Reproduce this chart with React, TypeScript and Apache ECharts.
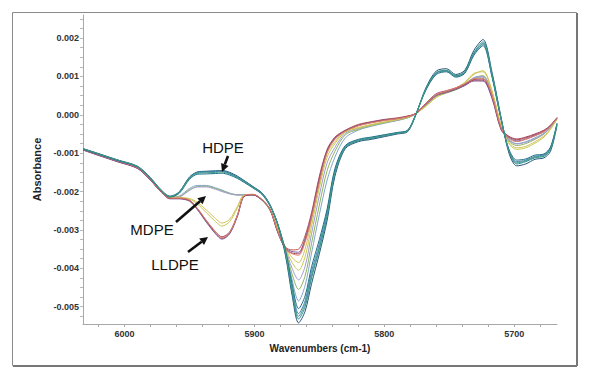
import React, { useEffect, useRef } from "react";
import * as echarts from "echarts";

// Wavenumber sample positions (cm-1)
const wavenumbers = [6032, 6020, 6005, 5990, 5980, 5972, 5965, 5958, 5950, 5944, 5937, 5930, 5925, 5919, 5913, 5908, 5901, 5894, 5888, 5882, 5876, 5871, 5866, 5861, 5856, 5850, 5844, 5838, 5830, 5820, 5810, 5800, 5790, 5782, 5776, 5768, 5760, 5752, 5745, 5738, 5731, 5724, 5717, 5710, 5704, 5698, 5691, 5684, 5677, 5672, 5667];

// HDPE spectra
const hdpe1 = [-0.00088,-0.00101,-0.00118,-0.00134,-0.00164,-0.00195,-0.00212, -0.00201,-0.00162,-0.00149,-0.00147,-0.00146,-0.00145,-0.0015,-0.0016,-0.00171, -0.00187,-0.00204,-0.00234,-0.00286,-0.00368,-0.0047,-0.00542,-0.00512,-0.0044,-0.00362,-0.00275,-0.0016,-0.00088, -0.0007,-0.00064,-0.00057,-0.0005,-0.00044,-0.00003, 0.0007,0.00114,0.0012,0.00105,0.00116,0.00168,0.00196,0.0011,-0.00008,-0.001,-0.00133,-0.00128,-0.00116,-0.00112,-0.00095,-0.00028];
const hdpe2 = [-0.00089,-0.00102,-0.00119,-0.00135,-0.00166,-0.00196,-0.00213, -0.00202,-0.00163,-0.0015,-0.00148,-0.00147,-0.00146,-0.00152,-0.00162,-0.00172, -0.00188,-0.00205,-0.00235,-0.00285,-0.00362,-0.00462,-0.00532,-0.005,-0.00425,-0.0035,-0.00265,-0.00152,-0.00085, -0.00068,-0.00062,-0.00055,-0.00048,-0.00042,-0.00002, 0.00068,0.0011,0.00116,0.00102,0.00112,0.00162,0.0019,0.00105,-0.0001,-0.00095,-0.00128,-0.00122,-0.00112,-0.00108,-0.0009,-0.00025];
const hdpe3 = [-0.0009,-0.00103,-0.0012,-0.00136,-0.00167,-0.00197,-0.00214, -0.00203,-0.00164,-0.00151,-0.00149,-0.00148,-0.00147,-0.00153,-0.00163,-0.00173, -0.00189,-0.00206,-0.00236,-0.00284,-0.00358,-0.0045,-0.00518,-0.00485,-0.00408,-0.00336,-0.00252,-0.00145,-0.00082, -0.00066,-0.0006,-0.00053,-0.00047,-0.00041,-0.00001, 0.00066,0.00108,0.00114,0.001,0.0011,0.00158,0.00184,0.001,-0.00012,-0.00092,-0.00122,-0.00118,-0.00108,-0.00104,-0.00086,-0.00023];
const hdpe4 = [-0.00089,-0.00103,-0.00119,-0.00136,-0.00166,-0.00197,-0.00214, -0.00205,-0.00168,-0.00155,-0.00154,-0.00153,-0.00152,-0.00157,-0.00166,-0.00176, -0.00191,-0.00208,-0.00238,-0.00286,-0.00355,-0.0044,-0.00505,-0.00472,-0.00396,-0.00325,-0.00245,-0.0014,-0.0008, -0.00064,-0.00058,-0.00052,-0.00046,-0.0004,-0.00001, 0.00064,0.00105,0.00112,0.00098,0.00108,0.00155,0.0018,0.00098,-0.00014,-0.0009,-0.00118,-0.00115,-0.00105,-0.00102,-0.00084,-0.00022];
const hdpe5 = [-0.00088,-0.00102,-0.00118,-0.00135,-0.00165,-0.00196,-0.00213, -0.00203,-0.00166,-0.00153,-0.00151,-0.0015,-0.00149,-0.00155,-0.00164,-0.00174, -0.0019,-0.00206,-0.00236,-0.00285,-0.0036,-0.00455,-0.00525,-0.00492,-0.00418,-0.00345,-0.0026,-0.0015,-0.00084, -0.00067,-0.00061,-0.00054,-0.00048,-0.00042,-0.00002, 0.00067,0.00109,0.00115,0.00101,0.00111,0.0016,0.00186,0.00102,-0.00011,-0.00094,-0.00125,-0.0012,-0.0011,-0.00106,-0.00088,-0.00024];

// MDPE / intermediate spectra
const mdpe1 = [-0.0009,-0.00103,-0.0012,-0.00137,-0.00168,-0.00198,-0.00215, -0.00212,-0.00192,-0.00184,-0.00184,-0.0019,-0.00196,-0.00204,-0.00208,-0.00208, -0.00208,-0.00222,-0.00248,-0.00296,-0.00355,-0.0043,-0.00485,-0.00445,-0.0036,-0.0026,-0.0017,-0.0011,-0.0006, -0.0004,-0.0003,-0.00022,-0.00015,-0.00008,0.00002, 0.00025,0.00048,0.00058,0.00066,0.00078,0.00095,0.00098,0.0005,-0.00035,-0.00065,-0.00075,-0.0007,-0.0006,-0.00048,-0.00032,-0.0001];
const mdpe2 = [-0.00089,-0.00102,-0.00119,-0.00136,-0.00167,-0.00197,-0.00214, -0.00213,-0.00195,-0.00187,-0.00186,-0.00192,-0.00198,-0.00205,-0.00209,-0.00209, -0.00209,-0.00223,-0.00249,-0.00297,-0.00352,-0.00415,-0.00455,-0.0042,-0.00335,-0.00235,-0.00145,-0.00095,-0.00052, -0.00038,-0.00028,-0.00021,-0.00014,-0.00008,0.00002, 0.00024,0.00047,0.00057,0.00065,0.00077,0.00096,0.00102,0.00055,-0.00032,-0.00068,-0.0008,-0.00075,-0.00064,-0.0005,-0.00033,-0.0001];
const mdpe3 = [-0.0009,-0.00103,-0.0012,-0.00136,-0.00167,-0.00198,-0.00215, -0.00214,-0.00197,-0.00188,-0.00188,-0.00194,-0.002,-0.00206,-0.00209,-0.00209, -0.00208,-0.00221,-0.00247,-0.00296,-0.0035,-0.004,-0.0043,-0.00395,-0.0031,-0.0021,-0.00125,-0.00085,-0.00048, -0.00036,-0.00027,-0.0002,-0.00014,-0.00007,0.00002, 0.00026,0.0005,0.0006,0.00068,0.0008,0.00097,0.001,0.00052,-0.00034,-0.00066,-0.00076,-0.00072,-0.00062,-0.00049,-0.00032,-0.0001];
const mdpe4 = [-0.0009,-0.00103,-0.0012,-0.00137,-0.00168,-0.00198,-0.00215, -0.00216,-0.0022,-0.00232,-0.00255,-0.00278,-0.0029,-0.00278,-0.00242,-0.0021, -0.00209,-0.00222,-0.00248,-0.00295,-0.00348,-0.00385,-0.00405,-0.0037,-0.0029,-0.0019,-0.0011,-0.00075,-0.00045, -0.00035,-0.00027,-0.0002,-0.00013,-0.00007,0.00002, 0.00022,0.00045,0.00058,0.00068,0.00082,0.00105,0.00115,0.00062,-0.0003,-0.00075,-0.0009,-0.00086,-0.00074,-0.00058,-0.00038,-0.00012];
const mdpe5 = [-0.00089,-0.00102,-0.00119,-0.00136,-0.00167,-0.00197,-0.00214, -0.00215,-0.00218,-0.00228,-0.00248,-0.0027,-0.00282,-0.00272,-0.00238,-0.00209, -0.00208,-0.00221,-0.00247,-0.00295,-0.00345,-0.00372,-0.00385,-0.0035,-0.00275,-0.0018,-0.001,-0.0007,-0.00042, -0.00033,-0.00025,-0.00018,-0.00012,-0.00006,0.00002, 0.00023,0.00046,0.0006,0.0007,0.00085,0.00108,0.00112,0.0006,-0.00028,-0.00072,-0.00086,-0.00082,-0.0007,-0.00055,-0.00036,-0.00011];

// LLDPE spectra
const lldpe1 = [-0.00091,-0.00105,-0.00122,-0.00139,-0.0017,-0.002,-0.00218, -0.00218,-0.00224,-0.00245,-0.00278,-0.00308,-0.00322,-0.00308,-0.00262,-0.00212, -0.00208,-0.00222,-0.00246,-0.00305,-0.00345,-0.00352,-0.0035,-0.00315,-0.00255,-0.0016,-0.0009,-0.00058,-0.0004, -0.00025,-0.00018,-0.00012,-0.00008,-0.00003,0.00003, 0.00028,0.00052,0.0006,0.00068,0.00078,0.0009,0.0009,0.00045,-0.00038,-0.00058,-0.00065,-0.0006,-0.00052,-0.00042,-0.00028,-0.00008];
const lldpe2 = [-0.00092,-0.00106,-0.00123,-0.0014,-0.00171,-0.00201,-0.00219, -0.00219,-0.00225,-0.00247,-0.0028,-0.0031,-0.00324,-0.0031,-0.00264,-0.00213, -0.00209,-0.00223,-0.00247,-0.00307,-0.00348,-0.00356,-0.00358,-0.00322,-0.0026,-0.00165,-0.00092,-0.0006,-0.00041, -0.00027,-0.00019,-0.00013,-0.00009,-0.00004,0.00003, 0.00027,0.0005,0.00058,0.00066,0.00076,0.00088,0.00088,0.00042,-0.0004,-0.0006,-0.00068,-0.00063,-0.00054,-0.00044,-0.00029,-0.00008];
const lldpe3 = [-0.00091,-0.00105,-0.00122,-0.00139,-0.0017,-0.00201,-0.00218, -0.00218,-0.00223,-0.00244,-0.00276,-0.00305,-0.00318,-0.00305,-0.0026,-0.00212, -0.00208,-0.00222,-0.00247,-0.00306,-0.0035,-0.0036,-0.00362,-0.00328,-0.00265,-0.0017,-0.00095,-0.00062,-0.00042, -0.00028,-0.0002,-0.00014,-0.0001,-0.00004,0.00003, 0.0003,0.00055,0.00063,0.0007,0.0008,0.00092,0.00093,0.00048,-0.00036,-0.00056,-0.00063,-0.00058,-0.0005,-0.0004,-0.00027,-0.00007];
const lldpe4 = [-0.0009,-0.00104,-0.00121,-0.00138,-0.00169,-0.002,-0.00217, -0.00217,-0.00222,-0.00243,-0.00275,-0.00304,-0.0032,-0.00306,-0.00261,-0.00211, -0.00207,-0.00221,-0.00246,-0.00304,-0.0035,-0.00362,-0.00366,-0.00332,-0.00268,-0.00175,-0.00098,-0.00064,-0.00043, -0.00029,-0.00021,-0.00015,-0.0001,-0.00005,0.00003, 0.00029,0.00053,0.00062,0.0007,0.00081,0.00094,0.00095,0.0005,-0.00035,-0.00062,-0.0007,-0.00064,-0.00055,-0.00044,-0.0003,-0.00009];

// Axis ticks and labels
const yLabelValues = [-0.005, -0.004, -0.003, -0.002, -0.001, 0, 0.001, 0.002];
const yTickValues = [-0.00525, -0.005, -0.00475, -0.0045, -0.00425, -0.004, -0.00375, -0.0035, -0.00325, -0.003, -0.00275, -0.0025, -0.00225, -0.002, -0.00175, -0.0015, -0.00125, -0.001, -0.00075, -0.0005, -0.00025, 0, 0.00025, 0.0005, 0.00075, 0.001, 0.00125, 0.0015, 0.00175, 0.002, 0.00225, 0.0025];
const xLabelValues = [5700, 5800, 5900, 6000];
const xTickValues = [5680, 5700, 5720, 5740, 5760, 5780, 5800, 5820, 5840, 5860, 5880, 5900, 5920, 5940, 5960, 5980, 6000, 6020];

const spectra = [
  { name: "MDPE 1", data: mdpe1, color: "#7fa6cf" },
  { name: "MDPE 2", data: mdpe2, color: "#8fb35a" },
  { name: "MDPE 3", data: mdpe3, color: "#a19bd1" },
  { name: "MDPE 4", data: mdpe4, color: "#c2c94e" },
  { name: "MDPE 5", data: mdpe5, color: "#d6c05a" },
  { name: "LLDPE 1", data: lldpe1, color: "#c0504d" },
  { name: "LLDPE 2", data: lldpe2, color: "#7f5c9f" },
  { name: "LLDPE 3", data: lldpe3, color: "#a0405e" },
  { name: "LLDPE 4", data: lldpe4, color: "#d9826a" },
  { name: "HDPE 1", data: hdpe1, color: "#24527a" },
  { name: "HDPE 2", data: hdpe2, color: "#2b8a8e" },
  { name: "HDPE 3", data: hdpe3, color: "#4a7eb5" },
  { name: "HDPE 4", data: hdpe4, color: "#1e6e86" },
  { name: "HDPE 5", data: hdpe5, color: "#3d9c86" },
];

const FONT = '"Liberation Sans", Arial, sans-serif';

function arrow(x1: number, y1: number, bx: number, by: number, head: number[][]) {
  return [
    { type: "line", shape: { x1, y1, x2: bx, y2: by }, style: { stroke: "#111", lineWidth: 2.6 }, z: 100 },
    { type: "polygon", shape: { points: head }, style: { fill: "#111" }, z: 100 },
  ];
}

export default function App() {
  const ref = useRef<HTMLDivElement>(null);
  useEffect(() => {
    if (!ref.current) return;
    const chart = echarts.init(ref.current, null, { renderer: "svg" });
    const option: any = {
      animation: false,
      backgroundColor: "#ffffff",
      grid: { left: 83, right: 36, top: 15, bottom: 56, containLabel: false },
      xAxis: {
        type: "value",
        min: 5667,
        max: 6032,
        inverse: true,
        name: "Wavenumbers (cm-1)",
        nameLocation: "middle",
        nameGap: 19,
        nameTextStyle: { fontFamily: FONT, fontSize: 10, fontWeight: "bold", color: "#222" },
        axisLine: { onZero: false, lineStyle: { color: "#a8a8a8", width: 1 } },
        axisTick: { show: true, length: 3, customValues: xTickValues, lineStyle: { color: "#a8a8a8" } },
        axisLabel: { customValues: xLabelValues, fontFamily: FONT, fontSize: 9, fontWeight: "bold", color: "#333", margin: 5, formatter: (v: number) => String(Math.round(v)) },
        splitLine: { show: false },
      },
      yAxis: {
        type: "value",
        min: -0.00545,
        max: 0.0026,
        name: "Absorbance",
        nameLocation: "middle",
        nameGap: 38,
        nameTextStyle: { fontFamily: FONT, fontSize: 11, fontWeight: "bold", color: "#222" },
        axisLine: { show: true, onZero: false, lineStyle: { color: "#a8a8a8", width: 1 } },
        axisTick: { show: true, length: 3, customValues: yTickValues, lineStyle: { color: "#b8b8b8" } },
        axisLabel: { customValues: yLabelValues, fontFamily: FONT, fontSize: 9, fontWeight: "bold", color: "#333", margin: 4, formatter: (v: number) => v.toFixed(3) },
        splitLine: { show: false },
      },
      series: spectra.map((s) => ({
        name: s.name,
        type: "line",
        data: wavenumbers.map((w, i) => [w, s.data[i]]),
        showSymbol: false,
        smooth: 0.3,
        silent: true,
        lineStyle: { color: s.color, width: 1 },
        itemStyle: { color: s.color },
        emphasis: { disabled: true },
      })),
      graphic: [
        { type: "rect", shape: { x: 12.5, y: 12.5, width: 564, height: 353 }, style: { fill: "none", stroke: "#8a8a8a", lineWidth: 1 }, z: 50 },
        { type: "line", shape: { x1: 577, y1: 13, x2: 577, y2: 366 }, style: { stroke: "#777", lineWidth: 2 }, z: 50 },
        { type: "line", shape: { x1: 13, y1: 366, x2: 577, y2: 366 }, style: { stroke: "#777", lineWidth: 2 }, z: 50 },
        { type: "text", z: 100, style: { text: "HDPE", x: 223, y: 147, font: `15px ${FONT}`, fill: "#111", align: "center", verticalAlign: "middle", textAlign: "center", textVerticalAlign: "middle" } },
        { type: "text", z: 100, style: { text: "MDPE", x: 152, y: 229, font: `15px ${FONT}`, fill: "#111", align: "center", verticalAlign: "middle", textAlign: "center", textVerticalAlign: "middle" } },
        { type: "text", z: 100, style: { text: "LLDPE", x: 175, y: 264, font: `15px ${FONT}`, fill: "#111", align: "center", verticalAlign: "middle", textAlign: "center", textVerticalAlign: "middle" } },
        ...arrow(228, 156, 224.8, 164.5, [[222, 172], [228.5, 165.9], [221.1, 163.1]]),
        ...arrow(176, 222, 200, 201.2, [[206, 196], [202.6, 204.3], [197.3, 198.2]]),
        ...arrow(188, 252, 201.6, 241.8, [[208, 237], [204, 245], [199.2, 238.6]]),
      ],
    };
    chart.setOption(option);
    return () => chart.dispose();
  }, []);
  return (
    <div
      ref={ref}
      style={{ position: "absolute", left: 0, top: 0, width: 593, height: 380, background: "#fff" }}
    />
  );
}
